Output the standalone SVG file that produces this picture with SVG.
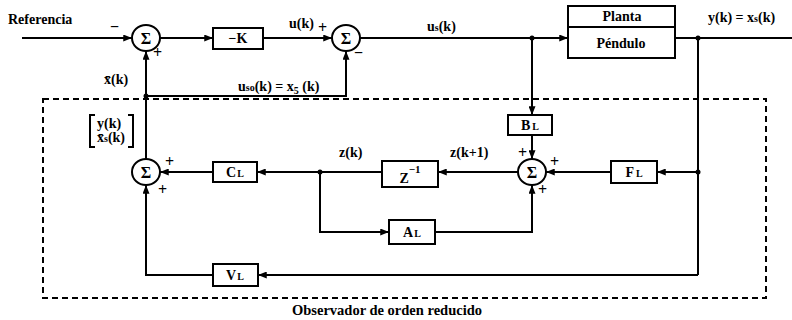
<svg xmlns="http://www.w3.org/2000/svg" width="792" height="320" viewBox="0 0 792 320">
<defs>
<marker id="ah" viewBox="0 0 10 8" refX="10" refY="4" markerWidth="9" markerHeight="7" markerUnits="userSpaceOnUse" orient="auto">
<path d="M0,0 L10,4 L0,8 Z" fill="#000"/>
</marker>
</defs>
<style>
text{font-family:"Liberation Serif","Times New Roman",serif;font-weight:bold;fill:#000}
.lbl{font-size:14px}
.sg{font-size:16px}
.box{fill:#fff;stroke:#000;stroke-width:2}
.sum{fill:#fff;stroke:#000;stroke-width:2}
.ln{fill:none;stroke:#000;stroke-width:2}
.ar{marker-end:url(#ah)}
.dash{fill:none;stroke:#000;stroke-width:2;stroke-dasharray:6 4}
.c{text-anchor:middle}
.sub{font-size:10px}
</style>
<rect width="792" height="320" fill="#fff"/>
<rect class="dash" x="43" y="99" width="723" height="199"/>
<g id="connectors">
<path class="ln ar" d="M22,38 H132"/>
<path class="ln ar" d="M160,38 H213"/>
<path class="ln ar" d="M263,38 H332"/>
<path class="ln ar" d="M360,38 H568"/>
<path class="ln" d="M675,38 H792"/>
<path class="ln ar" d="M532,38 V115"/>
<path class="ln ar" d="M532,135 V159"/>
<path class="ln" d="M698,38 V275"/>
<path class="ln ar" d="M698,172 H657"/>
<path class="ln ar" d="M611,172 H546"/>
<path class="ln ar" d="M518,172 H438"/>
<path class="ln ar" d="M382,172 H257"/>
<path class="ln ar" d="M213,172 H160"/>
<path class="ln ar" d="M146,159 V51"/>
<path class="ln ar" d="M146,96 H346 V51"/>
<path class="ln ar" d="M320,172 V232 H389"/>
<path class="ln ar" d="M435,232 H532 V185"/>
<path class="ln ar" d="M698,275 H258"/>
<path class="ln ar" d="M213,275 H146 V185"/>
<circle cx="532" cy="38" r="2.5"/>
<circle cx="698" cy="38" r="2.5"/>
<circle cx="698" cy="172" r="2.5"/>
<circle cx="320" cy="172" r="2.5"/>
<circle cx="146" cy="96" r="2.5"/>
</g>
<g id="sum1"><ellipse class="sum" cx="146" cy="38" rx="14" ry="13"/><text class="sg c" x="146" y="44">Σ</text></g>
<g id="sum2"><ellipse class="sum" cx="346" cy="38" rx="14" ry="13"/><text class="sg c" x="346" y="44">Σ</text></g>
<g id="sum3"><ellipse class="sum" cx="146" cy="172" rx="14" ry="13"/><text class="sg c" x="146" y="178">Σ</text></g>
<g id="sum4"><ellipse class="sum" cx="532" cy="172" rx="14" ry="13"/><text class="sg c" x="532" y="178">Σ</text></g>
<g id="K"><rect class="box" x="213" y="28" width="50" height="21"/><text class="lbl c" x="238" y="43">−K</text></g>
<g id="planta"><rect class="box" x="568" y="6" width="107" height="52"/><line class="ln" x1="568" y1="27" x2="675" y2="27"/><text class="lbl c" x="622" y="21">Planta</text><text class="lbl c" x="621" y="48">Péndulo</text></g>
<g id="BL"><rect class="box" x="508" y="115" width="44" height="20"/><text class="lbl c" x="530" y="130">B<tspan class="sub" dx="2">L</tspan></text></g>
<g id="FL"><rect class="box" x="611" y="161" width="46" height="22"/><text class="lbl c" x="634" y="177">F<tspan class="sub" dx="2">L</tspan></text></g>
<g id="Zinv"><rect class="box" x="382" y="161" width="56" height="26"/><text class="lbl c" x="410" y="183" font-size="16">Z<tspan font-size="11" dy="-10">−1</tspan></text></g>
<g id="CL"><rect class="box" x="213" y="162" width="44" height="20"/><text class="lbl c" x="235" y="177">C<tspan class="sub" dx="1">L</tspan></text></g>
<g id="AL"><rect class="box" x="389" y="220" width="46" height="24"/><text class="lbl c" x="412" y="237">A<tspan class="sub" dx="1">L</tspan></text></g>
<g id="VL"><rect class="box" x="213" y="264" width="45" height="22"/><text class="lbl c" x="235" y="280">V<tspan class="sub" dx="1">L</tspan></text></g>
<g id="labels">
<text class="lbl" x="8" y="24">Referencia</text>
<text class="sg" x="110" y="32">−</text>
<text class="sg" x="153" y="58">+</text>
<text class="lbl" x="104" y="84">x̄(k)</text>
<text class="lbl" x="289" y="28">u(k)</text>
<text class="sg" x="318" y="33">+</text>
<text class="sg" x="354" y="58">−</text>
<text class="lbl" x="238" y="91">u<tspan class="sub">so</tspan>(k) = x<tspan class="sub" dy="3">5</tspan><tspan dy="-3"> (k)</tspan></text>
<text class="lbl" x="427" y="31">u<tspan class="sub">s</tspan>(k)</text>
<text class="lbl" x="708" y="22">y(k) = x<tspan class="sub">s</tspan>(k)</text>
<path class="ln" d="M95,115 H90 V147 H95 M128,115 H133 V147 H128" stroke-width="1.5"/>
<text class="lbl" x="97" y="128">y(k)</text>
<text class="lbl" x="97" y="142">x̄<tspan class="sub">s</tspan>(k)</text>
<text class="sg" x="165" y="167">+</text>
<text class="sg" x="158" y="195">+</text>
<text class="lbl" x="339" y="157">z(k)</text>
<text class="lbl" x="450" y="157">z(k+1)</text>
<text class="sg" x="518" y="158">+</text>
<text class="sg" x="550" y="167">+</text>
<text class="sg" x="538" y="195">+</text>
<text class="c" x="387" y="315" font-size="14.5">Observador de orden reducido</text>
</g>
</svg>
